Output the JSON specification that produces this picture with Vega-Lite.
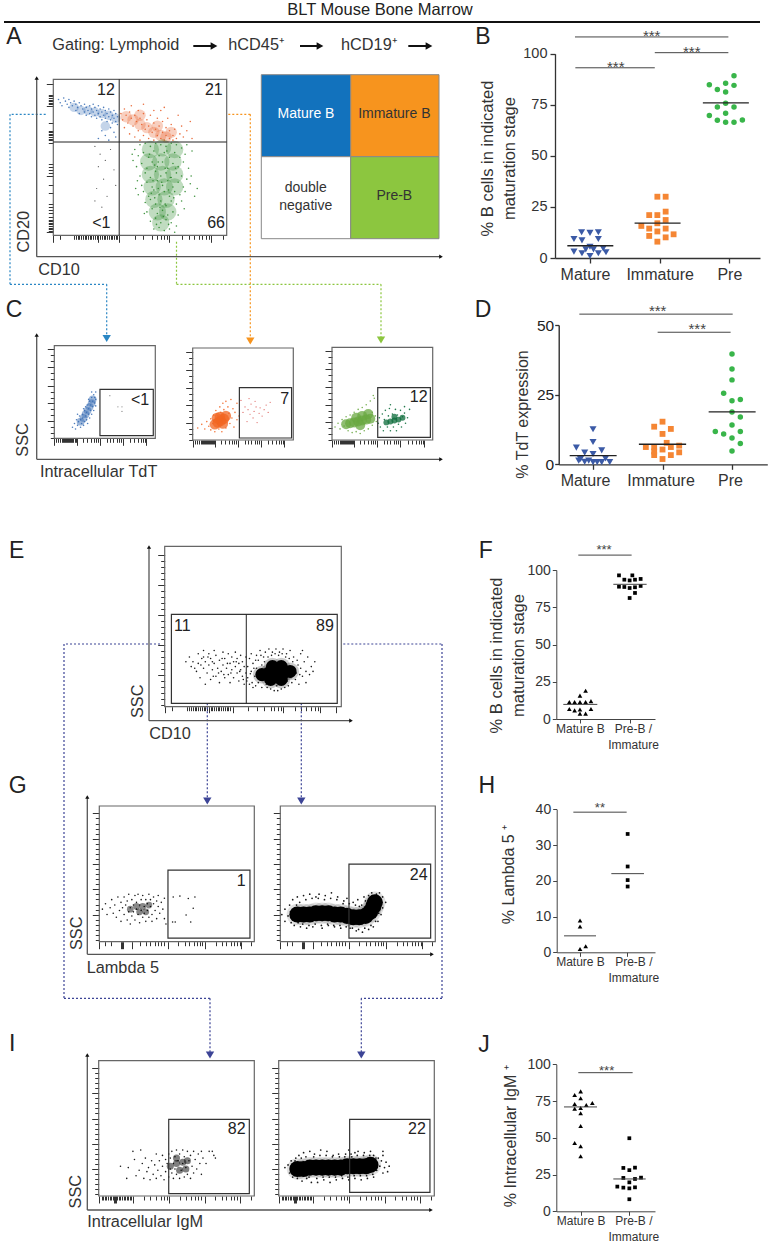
{"$schema":"https://vega.github.io/schema/vega-lite/v6.json","width":772,"height":1246,"autosize":"none","padding":0,"background":"white","config":{"view":{"stroke":null},"text":{"font":"Liberation Sans"},"axis":{"grid":false,"labelFont":"Liberation Sans","titleFont":"Liberation Sans"}},"resolve":{"scale":{"x":"independent","y":"independent"},"axis":{"x":"independent","y":"independent"}},"layer":[
{"encoding":{"x":{"field":"gx","type":"quantitative","scale":{"domain":[0,772],"range":[0,772]},"axis":null},"y":{"field":"gy","type":"quantitative","scale":{"domain":[0,1246],"range":[0,1246]},"axis":null}},"layer":[
{"data":{"values":[{"gx":45.7,"gy":114.3,"gx2":10,"gy2":114.3,"route":"mature"},{"gx":10,"gy":114.3,"gx2":10,"gy2":284.3,"route":"mature"},{"gx":10,"gy":284.3,"gx2":106.7,"gy2":284.3,"route":"mature"},{"gx":106.7,"gy":284.3,"gx2":106.7,"gy2":336,"route":"mature"},{"gx":228.3,"gy":114.3,"gx2":250.3,"gy2":114.3,"route":"immature"},{"gx":250.3,"gy":114.3,"gx2":250.3,"gy2":339,"route":"immature"},{"gx":176.5,"gy":241.7,"gx2":176.5,"gy2":284.3,"route":"pre"},{"gx":176.5,"gy":284.3,"gx2":381,"gy2":284.3,"route":"pre"},{"gx":381,"gy":284.3,"gx2":381,"gy2":338,"route":"pre"},{"gx":160,"gy":644,"gx2":64,"gy2":644,"route":"second"},{"gx":64,"gy":644,"gx2":64,"gy2":998.3,"route":"second"},{"gx":64,"gy":998.3,"gx2":210,"gy2":998.3,"route":"second"},{"gx":210,"gy":998.3,"gx2":210,"gy2":1053,"route":"second"},{"gx":343.3,"gy":644,"gx2":442,"gy2":644,"route":"second"},{"gx":442,"gy":644,"gx2":442,"gy2":998.3,"route":"second"},{"gx":442,"gy":998.3,"gx2":361.3,"gy2":998.3,"route":"second"},{"gx":361.3,"gy":998.3,"gx2":361.3,"gy2":1053,"route":"second"},{"gx":207.3,"gy":703.3,"gx2":207.3,"gy2":798,"route":"second"},{"gx":301.3,"gy":703.3,"gx2":301.3,"gy2":798,"route":"second"}]},"mark":{"type":"rule","strokeDash":[2,2],"strokeWidth":1.2},"encoding":{"x2":{"field":"gx2"},"y2":{"field":"gy2"},"color":{"field":"route","type":"nominal","legend":null,"scale":{"domain":["mature","immature","pre","second"],"range":["#2a86c4","#f7941e","#8cc63f","#3c4496"]}}}},
{"data":{"values":[{"gx":106.7,"gy":338.5,"route":"mature"},{"gx":250.3,"gy":341,"route":"immature"},{"gx":381,"gy":340,"route":"pre"},{"gx":207.3,"gy":801,"route":"second"},{"gx":301.3,"gy":801,"route":"second"},{"gx":210,"gy":1055,"route":"second"},{"gx":361.3,"gy":1055,"route":"second"}]},"mark":{"type":"point","shape":"triangle-down","filled":true,"size":70,"opacity":1},"encoding":{"color":{"field":"route","type":"nominal","legend":null,"scale":{"domain":["mature","immature","pre","second"],"range":["#1272bd","#f7941e","#8cc63f","#2e3192"]}}}},
{"data":{"values":[{"gx":4,"gx2":760,"gy":22,"gy2":22}]},"mark":{"type":"rule","color":"#111","strokeWidth":2},"encoding":{"x2":{"field":"gx2"},"y2":{"field":"gy2"}}},
{"data":{"values":[{"gx":36.7,"gy":78,"gx2":36.7,"gy2":256.7},{"gx":36.7,"gy":256.7,"gx2":441,"gy2":256.7},{"gx":36.7,"gy":335,"gx2":36.7,"gy2":459.3},{"gx":36.7,"gy":459.3,"gx2":441,"gy2":459.3},{"gx":149,"gy":547,"gx2":149,"gy2":720.7},{"gx":149,"gy":720.7,"gx2":351,"gy2":720.7},{"gx":87.3,"gy":797,"gx2":87.3,"gy2":954.3},{"gx":87.3,"gy":954.3,"gx2":432,"gy2":954.3},{"gx":87.3,"gy":1055,"gx2":87.3,"gy2":1210},{"gx":87.3,"gy":1210,"gx2":431,"gy2":1210}]},"mark":{"type":"rule","color":"#555","strokeWidth":1.3},"encoding":{"x2":{"field":"gx2"},"y2":{"field":"gy2"}}},
{"data":{"values":[{"gx":36.7,"gy":78},{"gx":36.7,"gy":335},{"gx":149,"gy":547},{"gx":87.3,"gy":797},{"gx":87.3,"gy":1055}]},"mark":{"type":"point","shape":"triangle-up","filled":true,"size":18,"color":"#111","opacity":1}},
{"data":{"values":[{"gx":441,"gy":256.7},{"gx":441,"gy":459.3},{"gx":351,"gy":720.7},{"gx":432,"gy":954.3},{"gx":431,"gy":1210}]},"mark":{"type":"point","shape":"triangle-right","filled":true,"size":18,"color":"#111","opacity":1}},
{"data":{"values":[{"gx":193.3,"gx2":214,"gy":46,"gy2":46},{"gx":300,"gx2":320,"gy":46,"gy2":46},{"gx":408.3,"gx2":429,"gy":46,"gy2":46}]},"mark":{"type":"rule","color":"#111","strokeWidth":2},"encoding":{"x2":{"field":"gx2"},"y2":{"field":"gy2"}}},
{"data":{"values":[{"gx":214,"gy":46},{"gx":320,"gy":46},{"gx":429,"gy":46}]},"mark":{"type":"point","shape":"triangle-right","filled":true,"size":60,"color":"#111","opacity":1}},
{"data":{"values":[{"gx":261.3,"gx2":350.7,"gy":74.7,"gy2":156.7,"stage":"mature"},{"gx":350.7,"gx2":439,"gy":74.7,"gy2":156.7,"stage":"immature"},{"gx":261.3,"gx2":350.7,"gy":156.7,"gy2":238.7,"stage":"dn"},{"gx":350.7,"gx2":439,"gy":156.7,"gy2":238.7,"stage":"pre"}]},"mark":{"type":"rect","stroke":"#888","strokeWidth":1},"encoding":{"x2":{"field":"gx2"},"y2":{"field":"gy2"},"fill":{"field":"stage","type":"nominal","legend":null,"scale":{"domain":["mature","immature","dn","pre"],"range":["#1272bd","#f7941e","#ffffff","#8cc63f"]}}}},
{"data":{"values":[{"gx":380,"gy":10,"t":"BLT Mouse Bone Marrow"}]},"mark":{"type":"text","fontSize":16.5,"color":"#222","align":"center","baseline":"middle"},"encoding":{"text":{"field":"t"}}},
{"data":{"values":[{"gx":14,"gy":36.7,"t":"A"},{"gx":483,"gy":36.7,"t":"B"},{"gx":14,"gy":310,"t":"C"},{"gx":483,"gy":310,"t":"D"},{"gx":16.7,"gy":550.7,"t":"E"},{"gx":485.7,"gy":550.7,"t":"F"},{"gx":17.7,"gy":786,"t":"G"},{"gx":486.7,"gy":786,"t":"H"},{"gx":12.3,"gy":1044,"t":"I"},{"gx":484,"gy":1045,"t":"J"}]},"mark":{"type":"text","fontSize":23,"color":"#222","align":"center","baseline":"middle"},"encoding":{"text":{"field":"t"}}},
{"data":{"values":[{"gx":52.3,"gy":45,"t":"Gating: Lymphoid"},{"gx":228.3,"gy":45,"t":"hCD45⁺"},{"gx":341,"gy":45,"t":"hCD19⁺"},{"gx":38.3,"gy":270,"t":"CD10"},{"gx":40,"gy":471.7,"t":"Intracellular TdT"},{"gx":149.3,"gy":734.3,"t":"CD10"},{"gx":86.7,"gy":968.3,"t":"Lambda 5"},{"gx":87.3,"gy":1222.3,"t":"Intracellular IgM"}]},"mark":{"type":"text","fontSize":16.3,"color":"#333","align":"left","baseline":"middle"},"encoding":{"text":{"field":"t"}}},
{"data":{"values":[{"gx":24,"gy":231.7,"t":"CD20"},{"gx":23.3,"gy":440,"t":"SSC"},{"gx":138.3,"gy":701.3,"t":"SSC"},{"gx":77.3,"gy":933.3,"t":"SSC"},{"gx":76,"gy":1191.7,"t":"SSC"}]},"mark":{"type":"text","fontSize":16.3,"color":"#333","align":"center","baseline":"middle","angle":270},"encoding":{"text":{"field":"t"}}},
{"data":{"values":[{"gx":306,"gy":114,"t":"Mature B"}]},"mark":{"type":"text","fontSize":14,"color":"#ffffff","align":"center","baseline":"middle"},"encoding":{"text":{"field":"t"}}},
{"data":{"values":[{"gx":394.3,"gy":114,"t":"Immature B"},{"gx":305.7,"gy":188,"t":"double"},{"gx":305.7,"gy":205.7,"t":"negative"},{"gx":394.3,"gy":196.3,"t":"Pre-B"}]},"mark":{"type":"text","fontSize":14,"color":"#333","align":"center","baseline":"middle"},"encoding":{"text":{"field":"t"}}}
]},
{"encoding":{"x":{"field":"x","type":"quantitative","title":null,"scale":{"domain":[0,100],"range":[53.3,226.7]},"axis":{"orient":"bottom","offset":-1010.7,"domain":false,"labels":false,"title":null,"tickColor":"#333","values":[0,4,12,13,14,15,16,17,18,19,20,21,22,23,24,25,26,27,28,29,30,31,32,33,34,35,36,37,38,47,52,57,60,62,64,65.5,67,74,78,81,84,86,88,90,91,98],"tickSize":{"condition":{"test":"indexof([0,26,38,67,91],datum.value)>=0","value":7},"value":4}}},"y":{"field":"y","type":"quantitative","title":null,"scale":{"domain":[0,100],"range":[235.3,79.3]},"axis":{"orient":"left","offset":-53.3,"domain":false,"labels":false,"title":null,"tickColor":"#333","values":[97,90,89,88,87,86,85,84,83,72,67,66,65,64,63,62,61,59,46,44,42,40,38,32,27,20,18,16,14,12,10,9,8,7,6,5,4,3,2],"tickSize":{"condition":{"test":"indexof([97,83,60,38,2],datum.value)>=0","value":7},"value":5}}}},"layer":[
{"data":{"values":[{"x":12,"y":82},{"x":16,"y":80},{"x":20,"y":80},{"x":24,"y":79},{"x":28,"y":78},{"x":32,"y":77},{"x":36,"y":75},{"x":30,"y":70}]},"mark":{"type":"circle","size":90,"color":"#3b6fb5","opacity":0.3}},
{"data":{"values":[{"x":3,"y":87},{"x":4,"y":85},{"x":6,"y":88},{"x":5,"y":83},{"x":7,"y":86},{"x":8,"y":84},{"x":9,"y":87},{"x":10,"y":85},{"x":9,"y":82},{"x":11,"y":83},{"x":12,"y":86},{"x":13,"y":84},{"x":14,"y":82},{"x":13,"y":80},{"x":15,"y":85},{"x":16,"y":83},{"x":17,"y":81},{"x":15,"y":78},{"x":18,"y":84},{"x":18,"y":79},{"x":19,"y":82},{"x":19,"y":77},{"x":20,"y":80},{"x":21,"y":83},{"x":21,"y":78},{"x":22,"y":81},{"x":22,"y":76},{"x":23,"y":79},{"x":23,"y":84},{"x":24,"y":82},{"x":24,"y":77},{"x":25,"y":80},{"x":25,"y":75},{"x":26,"y":83},{"x":26,"y":78},{"x":27,"y":81},{"x":27,"y":76},{"x":28,"y":79},{"x":28,"y":74},{"x":29,"y":82},{"x":29,"y":77},{"x":30,"y":80},{"x":30,"y":75},{"x":31,"y":78},{"x":31,"y":73},{"x":32,"y":81},{"x":32,"y":76},{"x":33,"y":79},{"x":33,"y":74},{"x":34,"y":77},{"x":34,"y":72},{"x":35,"y":80},{"x":35,"y":75},{"x":36,"y":78},{"x":36,"y":73},{"x":37,"y":76},{"x":37,"y":71},{"x":33,"y":69},{"x":28,"y":67},{"x":30,"y":64},{"x":35,"y":66},{"x":26,"y":62},{"x":32,"y":61},{"x":36,"y":63}]},"mark":{"type":"circle","size":2.5,"color":"#3b6fb5","opacity":0.9}},
{"data":{"values":[{"x":42,"y":76},{"x":46,"y":74},{"x":50,"y":71},{"x":54,"y":69},{"x":58,"y":66},{"x":62,"y":64},{"x":65,"y":63},{"x":60,"y":70},{"x":50,"y":77},{"x":68,"y":66}]},"mark":{"type":"circle","size":130,"color":"#e8602c","opacity":0.3}},
{"data":{"values":[{"x":39,"y":78},{"x":40,"y":74},{"x":41,"y":81},{"x":42,"y":77},{"x":43,"y":72},{"x":44,"y":79},{"x":45,"y":75},{"x":45,"y":83},{"x":46,"y":70},{"x":47,"y":77},{"x":48,"y":73},{"x":49,"y":80},{"x":49,"y":67},{"x":50,"y":75},{"x":51,"y":71},{"x":52,"y":78},{"x":52,"y":64},{"x":53,"y":68},{"x":54,"y":74},{"x":55,"y":70},{"x":55,"y":62},{"x":56,"y":77},{"x":57,"y":66},{"x":58,"y":72},{"x":58,"y":61},{"x":59,"y":68},{"x":60,"y":64},{"x":60,"y":75},{"x":61,"y":70},{"x":62,"y":62},{"x":63,"y":66},{"x":63,"y":73},{"x":64,"y":61},{"x":65,"y":69},{"x":65,"y":64},{"x":66,"y":75},{"x":67,"y":62},{"x":67,"y":67},{"x":68,"y":71},{"x":69,"y":64},{"x":69,"y":61},{"x":70,"y":68},{"x":71,"y":62},{"x":72,"y":77},{"x":73,"y":65},{"x":74,"y":70},{"x":75,"y":63},{"x":77,"y":67},{"x":79,"y":73},{"x":80,"y":62},{"x":58,"y":80},{"x":62,"y":80},{"x":52,"y":84},{"x":64,"y":82},{"x":41,"y":69},{"x":44,"y":65},{"x":47,"y":63},{"x":50,"y":61}]},"mark":{"type":"circle","size":2.5,"color":"#e8602c","opacity":0.9}},
{"data":{"values":[{"x":56,"y":55},{"x":63,"y":56},{"x":70,"y":55},{"x":55,"y":47},{"x":62,"y":47},{"x":69,"y":47},{"x":56,"y":39},{"x":63,"y":39},{"x":70,"y":39},{"x":57,"y":31},{"x":64,"y":31},{"x":70,"y":31},{"x":58,"y":23},{"x":65,"y":23},{"x":60,"y":15},{"x":66,"y":15},{"x":62,"y":8}]},"mark":{"type":"circle","size":300,"color":"#2f8a2f","opacity":0.3}},
{"data":{"values":[{"x":47,"y":55},{"x":50,"y":58},{"x":53,"y":59},{"x":56,"y":57},{"x":59,"y":59},{"x":62,"y":58},{"x":65,"y":57},{"x":68,"y":59},{"x":71,"y":58},{"x":74,"y":56},{"x":77,"y":58},{"x":80,"y":54},{"x":46,"y":48},{"x":49,"y":51},{"x":52,"y":53},{"x":55,"y":50},{"x":58,"y":54},{"x":61,"y":51},{"x":64,"y":53},{"x":67,"y":50},{"x":70,"y":53},{"x":73,"y":50},{"x":76,"y":52},{"x":48,"y":44},{"x":51,"y":46},{"x":54,"y":43},{"x":57,"y":47},{"x":60,"y":44},{"x":63,"y":47},{"x":66,"y":43},{"x":69,"y":46},{"x":72,"y":44},{"x":75,"y":47},{"x":78,"y":43},{"x":50,"y":38},{"x":53,"y":40},{"x":56,"y":37},{"x":59,"y":41},{"x":62,"y":38},{"x":65,"y":40},{"x":68,"y":37},{"x":71,"y":40},{"x":74,"y":38},{"x":77,"y":36},{"x":51,"y":32},{"x":54,"y":34},{"x":57,"y":31},{"x":60,"y":35},{"x":63,"y":32},{"x":66,"y":35},{"x":69,"y":31},{"x":72,"y":34},{"x":75,"y":31},{"x":79,"y":33},{"x":83,"y":30},{"x":49,"y":26},{"x":52,"y":28},{"x":55,"y":25},{"x":58,"y":29},{"x":61,"y":26},{"x":64,"y":28},{"x":67,"y":25},{"x":70,"y":28},{"x":73,"y":26},{"x":76,"y":28},{"x":53,"y":21},{"x":56,"y":23},{"x":59,"y":20},{"x":62,"y":22},{"x":65,"y":19},{"x":68,"y":22},{"x":71,"y":20},{"x":74,"y":22},{"x":54,"y":15},{"x":57,"y":17},{"x":60,"y":14},{"x":63,"y":16},{"x":66,"y":13},{"x":69,"y":15},{"x":72,"y":13},{"x":56,"y":9},{"x":59,"y":11},{"x":62,"y":8},{"x":65,"y":10},{"x":68,"y":8},{"x":71,"y":6},{"x":58,"y":4},{"x":61,"y":5},{"x":64,"y":3},{"x":67,"y":4},{"x":70,"y":2},{"x":55.5,"y":52},{"x":60.5,"y":47},{"x":65.5,"y":54},{"x":58.5,"y":45},{"x":64.5,"y":43},{"x":70.5,"y":43},{"x":57.5,"y":35},{"x":62.5,"y":34},{"x":67.5,"y":37},{"x":60.5,"y":30},{"x":56.5,"y":27},{"x":66.5,"y":29},{"x":61.5,"y":18},{"x":64.5,"y":20},{"x":58.5,"y":24},{"x":69.5,"y":24},{"x":59.5,"y":7},{"x":63.5,"y":12},{"x":66.5,"y":7},{"x":48.5,"y":35},{"x":47.5,"y":30},{"x":79.5,"y":38},{"x":81.5,"y":25},{"x":45.5,"y":52},{"x":52.5,"y":14},{"x":75.5,"y":17}]},"mark":{"type":"circle","size":2.5,"color":"#2f8a2f","opacity":0.9}},
{"data":{"values":[{"x":24,"y":57},{"x":27,"y":52},{"x":30,"y":48},{"x":33,"y":55},{"x":26,"y":44},{"x":29,"y":36},{"x":35,"y":42},{"x":25,"y":30},{"x":31,"y":25},{"x":24,"y":22},{"x":36,"y":32},{"x":28,"y":18},{"x":29,"y":10}]},"mark":{"type":"circle","size":1.5,"color":"#444","opacity":0.9}},
{"data":{"values":[{"x":0,"x2":100,"y":0,"y2":100}]},"mark":{"type":"rect","fill":"transparent","stroke":"#666","strokeWidth":1.2},"encoding":{"x2":{"field":"x2"},"y2":{"field":"y2"}}},
{"data":{"values":[{"x":38,"x2":38,"y":0,"y2":100},{"x":0,"x2":100,"y":59.8,"y2":59.8}]},"mark":{"type":"rule","color":"#222","strokeWidth":1},"encoding":{"x2":{"field":"x2"},"y2":{"field":"y2"}}},
{"data":{"values":[{"x":35.5,"y":93,"t":"12"},{"x":97.7,"y":93,"t":"21"},{"x":33,"y":7.7,"t":"<1"},{"x":99,"y":7.7,"t":"66"}]},"mark":{"type":"text","fontSize":16,"color":"#222","align":"right","baseline":"middle"},"encoding":{"text":{"field":"t"}}}
]},
{"encoding":{"x":{"field":"x","type":"quantitative","title":null,"scale":{"domain":[0,100],"range":[54.3,155.3]},"axis":{"orient":"bottom","offset":-807.7,"domain":false,"labels":false,"title":null,"tickColor":"#333","values":[0,2,4,6,8,9,10,11,12,13,14,15,16,17,18,19,20,21,22,28,32,36,39,41,43,45,52,55,58,62,64,66,68,75,79,83,86,88,90,91],"tickSize":{"condition":{"test":"indexof([0,22,45,68,91],datum.value)>=0","value":7},"value":4}}},"y":{"field":"y","type":"quantitative","title":null,"scale":{"domain":[0,100],"range":[438.3,345.7]},"axis":{"orient":"left","offset":-54.3,"domain":false,"labels":false,"title":null,"tickColor":"#333","values":[96,89.5,83,76.5,70,63.5,57,50.5,44,37.8,31.5,25,18.9,12.5,6,0],"tickSize":{"condition":{"test":"indexof([96,76.5,57,37.8,18.9],datum.value)>=0","value":7},"value":4}}}},"layer":[
{"data":{"values":[{"x":26,"y":18},{"x":29,"y":22},{"x":31,"y":26},{"x":33,"y":30},{"x":35,"y":34},{"x":37,"y":38},{"x":38,"y":42}]},"mark":{"type":"circle","size":60,"color":"#3b6fb5","opacity":0.5}},
{"data":{"values":[{"x":18,"y":12},{"x":20,"y":16},{"x":21,"y":10},{"x":22,"y":20},{"x":23,"y":14},{"x":24,"y":18},{"x":25,"y":24},{"x":26,"y":12},{"x":26,"y":20},{"x":27,"y":16},{"x":28,"y":26},{"x":28,"y":22},{"x":29,"y":14},{"x":30,"y":18},{"x":30,"y":30},{"x":31,"y":24},{"x":31,"y":34},{"x":32,"y":20},{"x":32,"y":28},{"x":33,"y":16},{"x":33,"y":36},{"x":34,"y":26},{"x":34,"y":32},{"x":35,"y":22},{"x":35,"y":40},{"x":36,"y":30},{"x":36,"y":36},{"x":37,"y":26},{"x":37,"y":44},{"x":38,"y":34},{"x":38,"y":40},{"x":39,"y":30},{"x":39,"y":47},{"x":40,"y":38},{"x":40,"y":44},{"x":41,"y":50},{"x":41,"y":35},{"x":37,"y":50},{"x":34,"y":42},{"x":29,"y":32},{"x":23,"y":26},{"x":41,"y":42}]},"mark":{"type":"circle","size":2.5,"color":"#3b6fb5","opacity":0.9}},
{"data":{"values":[{"x":55,"y":46},{"x":63,"y":34},{"x":67,"y":34},{"x":67,"y":29}]},"mark":{"type":"circle","size":1.5,"color":"#777","opacity":0.9}},
{"data":{"values":[{"x":0,"x2":100,"y":0,"y2":100}]},"mark":{"type":"rect","fill":"transparent","stroke":"#666","strokeWidth":1.2},"encoding":{"x2":{"field":"x2"},"y2":{"field":"y2"}}},
{"data":{"values":[{"x":45.2,"x2":98,"y":2.9,"y2":52.9}]},"mark":{"type":"rect","fill":"transparent","stroke":"#333","strokeWidth":1.2},"encoding":{"x2":{"field":"x2"},"y2":{"field":"y2"}}},
{"data":{"values":[{"x":94,"y":41.4,"t":"<1"}]},"mark":{"type":"text","fontSize":16,"color":"#222","align":"right","baseline":"middle"},"encoding":{"text":{"field":"t"}}}
]},
{"encoding":{"x":{"field":"x","type":"quantitative","title":null,"scale":{"domain":[0,100],"range":[192.7,293.3]},"axis":{"orient":"bottom","offset":-806,"domain":false,"labels":false,"title":null,"tickColor":"#333","values":[0,2,4,6,8,9,10,11,12,13,14,15,16,17,18,19,20,21,22,28,32,36,39,41,43,45,52,55,58,62,64,66,68,75,79,83,86,88,90,91],"tickSize":{"condition":{"test":"indexof([0,22,45,68,91],datum.value)>=0","value":7},"value":4}}},"y":{"field":"y","type":"quantitative","title":null,"scale":{"domain":[0,100],"range":[440,348]},"axis":{"orient":"left","offset":-192.7,"domain":false,"labels":false,"title":null,"tickColor":"#333","values":[96,89.5,83,76.5,70,63.5,57,50.5,44,37.8,31.5,25,18.9,12.5,6,0],"tickSize":{"condition":{"test":"indexof([96,76.5,57,37.8,18.9],datum.value)>=0","value":7},"value":4}}}},"layer":[
{"data":{"values":[{"x":22,"y":17},{"x":25,"y":19},{"x":28,"y":21},{"x":31,"y":23},{"x":33,"y":26},{"x":27,"y":25},{"x":30,"y":18},{"x":24,"y":24}]},"mark":{"type":"circle","size":110,"color":"#f26522","opacity":0.75}},
{"data":{"values":[{"x":5,"y":13},{"x":9,"y":17},{"x":12,"y":12},{"x":14,"y":20},{"x":16,"y":15},{"x":18,"y":23},{"x":18,"y":11},{"x":20,"y":18},{"x":21,"y":27},{"x":22,"y":9},{"x":23,"y":32},{"x":25,"y":26},{"x":26,"y":12},{"x":27,"y":36},{"x":28,"y":30},{"x":29,"y":9},{"x":30,"y":40},{"x":31,"y":33},{"x":33,"y":42},{"x":33,"y":13},{"x":35,"y":36},{"x":36,"y":29},{"x":37,"y":18},{"x":38,"y":44},{"x":39,"y":24},{"x":40,"y":34},{"x":41,"y":14},{"x":42,"y":30},{"x":44,"y":40},{"x":44,"y":22},{"x":46,"y":26}]},"mark":{"type":"circle","size":2.5,"color":"#f26522","opacity":0.9}},
{"data":{"values":[{"x":48,"y":43},{"x":50,"y":30},{"x":52,"y":36},{"x":54,"y":20},{"x":55,"y":33},{"x":57,"y":28},{"x":58,"y":39},{"x":60,"y":24},{"x":61,"y":31},{"x":63,"y":36},{"x":64,"y":19},{"x":66,"y":29},{"x":67,"y":35},{"x":69,"y":26},{"x":71,"y":33},{"x":73,"y":38},{"x":75,"y":30},{"x":77,"y":41},{"x":62,"y":42},{"x":56,"y":45}]},"mark":{"type":"circle","size":1.5,"color":"#d9534f","opacity":0.9}},
{"data":{"values":[{"x":0,"x2":100,"y":0,"y2":100}]},"mark":{"type":"rect","fill":"transparent","stroke":"#666","strokeWidth":1.2},"encoding":{"x2":{"field":"x2"},"y2":{"field":"y2"}}},
{"data":{"values":[{"x":46.4,"x2":98.3,"y":2.2,"y2":56.9}]},"mark":{"type":"rect","fill":"transparent","stroke":"#333","strokeWidth":1.2},"encoding":{"x2":{"field":"x2"},"y2":{"field":"y2"}}},
{"data":{"values":[{"x":96,"y":44.6,"t":"7"}]},"mark":{"type":"text","fontSize":16,"color":"#222","align":"right","baseline":"middle"},"encoding":{"text":{"field":"t"}}}
]},
{"encoding":{"x":{"field":"x","type":"quantitative","title":null,"scale":{"domain":[0,100],"range":[332,432.7]},"axis":{"orient":"bottom","offset":-806,"domain":false,"labels":false,"title":null,"tickColor":"#333","values":[0,2,4,6,8,9,10,11,12,13,14,15,16,17,18,19,20,21,22,28,32,36,39,41,43,45,52,55,58,62,64,66,68,75,79,83,86,88,90,91],"tickSize":{"condition":{"test":"indexof([0,22,45,68,91],datum.value)>=0","value":7},"value":4}}},"y":{"field":"y","type":"quantitative","title":null,"scale":{"domain":[0,100],"range":[440,347.3]},"axis":{"orient":"left","offset":-332,"domain":false,"labels":false,"title":null,"tickColor":"#333","values":[96,89.5,83,76.5,70,63.5,57,50.5,44,37.8,31.5,25,18.9,12.5,6,0],"tickSize":{"condition":{"test":"indexof([96,76.5,57,37.8,18.9],datum.value)>=0","value":7},"value":4}}}},"layer":[
{"data":{"values":[{"x":14,"y":17},{"x":18,"y":18},{"x":22,"y":19},{"x":26,"y":20},{"x":30,"y":21},{"x":34,"y":22},{"x":38,"y":23},{"x":24,"y":24},{"x":30,"y":26},{"x":28,"y":16},{"x":36,"y":28}]},"mark":{"type":"circle","size":100,"color":"#6aa842","opacity":0.75}},
{"data":{"values":[{"x":3,"y":14},{"x":6,"y":18},{"x":8,"y":12},{"x":10,"y":22},{"x":12,"y":15},{"x":14,"y":25},{"x":16,"y":10},{"x":18,"y":27},{"x":20,"y":8},{"x":22,"y":30},{"x":24,"y":9},{"x":26,"y":33},{"x":28,"y":7},{"x":30,"y":35},{"x":32,"y":10},{"x":34,"y":38},{"x":36,"y":12},{"x":38,"y":42},{"x":40,"y":16},{"x":40,"y":30},{"x":42,"y":45},{"x":43,"y":26},{"x":44,"y":20},{"x":41,"y":48}]},"mark":{"type":"circle","size":2.5,"color":"#6aa842","opacity":0.9}},
{"data":{"values":[{"x":54,"y":19},{"x":58,"y":20},{"x":62,"y":21},{"x":66,"y":22},{"x":70,"y":24},{"x":62,"y":25}]},"mark":{"type":"circle","size":35,"color":"#0b6b3a","opacity":0.75}},
{"data":{"values":[{"x":46,"y":18},{"x":47,"y":24},{"x":48,"y":14},{"x":50,"y":28},{"x":51,"y":10},{"x":52,"y":22},{"x":53,"y":32},{"x":55,"y":14},{"x":56,"y":26},{"x":57,"y":34},{"x":58,"y":10},{"x":60,"y":28},{"x":61,"y":14},{"x":63,"y":33},{"x":64,"y":10},{"x":65,"y":27},{"x":66,"y":17},{"x":68,"y":32},{"x":69,"y":14},{"x":70,"y":25},{"x":72,"y":29},{"x":73,"y":18},{"x":75,"y":24},{"x":77,"y":33},{"x":72,"y":36},{"x":58,"y":38}]},"mark":{"type":"circle","size":2.5,"color":"#0b6b3a","opacity":0.9}},
{"data":{"values":[{"x":0,"x2":100,"y":0,"y2":100}]},"mark":{"type":"rect","fill":"transparent","stroke":"#666","strokeWidth":1.2},"encoding":{"x2":{"field":"x2"},"y2":{"field":"y2"}}},
{"data":{"values":[{"x":45.4,"x2":97.7,"y":2.9,"y2":56.5}]},"mark":{"type":"rect","fill":"transparent","stroke":"#333","strokeWidth":1.2},"encoding":{"x2":{"field":"x2"},"y2":{"field":"y2"}}},
{"data":{"values":[{"x":95,"y":46,"t":"12"}]},"mark":{"type":"text","fontSize":16,"color":"#222","align":"right","baseline":"middle"},"encoding":{"text":{"field":"t"}}}
]},
{"encoding":{"x":{"field":"x","type":"quantitative","title":null,"scale":{"domain":[0,100],"range":[164.7,341.3]},"axis":{"orient":"bottom","offset":-539.3,"domain":false,"labels":false,"title":null,"tickColor":"#333","values":[0,4,12.5,14,15,16,17,18,19,20,21,22,23,24,25,26,27,28,29,30,31,32,33,34,35,36,37,38.5,47,52,56,60,62,64,66,67,74,77,80,83,85,87,88,97],"tickSize":{"condition":{"test":"indexof([0,25,38.5,67,88,97],datum.value)>=0","value":6},"value":4}}},"y":{"field":"y","type":"quantitative","title":null,"scale":{"domain":[0,100],"range":[706.7,546.3]},"axis":{"orient":"left","offset":-164.7,"domain":false,"labels":false,"title":null,"tickColor":"#333","values":[94.6,90.9,87.1,83.4,79.7,75.9,72.2,68.5,64.7,61,57.2,53.5,49.8,46,42.3,38.5,34.8,31.1,27.3,23.6,19.9,16.1,12.4,8.7,4.9,1.2],"tickSize":{"condition":{"test":"indexof([94.6,75.9,57.2,38.5,19.9],datum.value)>=0","value":7},"value":4}}}},"layer":[
{"data":{"values":[{"x":55,"y":20},{"x":59,"y":21},{"x":63,"y":21},{"x":67,"y":21},{"x":71,"y":22},{"x":61,"y":25},{"x":66,"y":25},{"x":60,"y":17},{"x":66,"y":17}]},"mark":{"type":"circle","size":320,"color":"#000","opacity":0.2}},
{"data":{"values":[{"x":55,"y":20},{"x":59,"y":21},{"x":63,"y":21},{"x":67,"y":21},{"x":71,"y":22},{"x":61,"y":25},{"x":66,"y":25},{"x":60,"y":17},{"x":66,"y":17}]},"mark":{"type":"circle","size":170,"color":"#000","opacity":1}},
{"data":{"values":[{"x":12,"y":28},{"x":14,"y":31},{"x":15,"y":25},{"x":16,"y":28},{"x":18,"y":22},{"x":19,"y":33},{"x":19,"y":27},{"x":20,"y":18},{"x":21,"y":30},{"x":22,"y":24},{"x":22,"y":35},{"x":23,"y":14},{"x":23,"y":28},{"x":24,"y":21},{"x":25,"y":33},{"x":25,"y":26},{"x":26,"y":17},{"x":26,"y":30},{"x":27,"y":23},{"x":28,"y":35},{"x":28,"y":27},{"x":29,"y":19},{"x":29,"y":32},{"x":30,"y":24},{"x":31,"y":15},{"x":31,"y":29},{"x":32,"y":22},{"x":33,"y":34},{"x":33,"y":26},{"x":34,"y":18},{"x":34,"y":30},{"x":35,"y":24},{"x":36,"y":33},{"x":36,"y":20},{"x":37,"y":27},{"x":37,"y":15},{"x":38,"y":31},{"x":38,"y":23},{"x":39,"y":18},{"x":39,"y":28},{"x":40,"y":34},{"x":40,"y":25},{"x":41,"y":21},{"x":41,"y":30},{"x":42,"y":16},{"x":42,"y":27},{"x":43,"y":32},{"x":43,"y":23},{"x":44,"y":19},{"x":44,"y":28},{"x":45,"y":14},{"x":45,"y":25},{"x":46,"y":21},{"x":46,"y":31},{"x":47,"y":18},{"x":47,"y":25},{"x":48,"y":30},{"x":48,"y":14},{"x":49,"y":22},{"x":49,"y":33},{"x":50,"y":27},{"x":50,"y":12},{"x":51,"y":19},{"x":52,"y":32},{"x":52,"y":24},{"x":53,"y":15},{"x":53,"y":29},{"x":54,"y":35},{"x":54,"y":20},{"x":55,"y":12},{"x":55,"y":26},{"x":56,"y":31},{"x":57,"y":34},{"x":58,"y":12},{"x":59,"y":36},{"x":60,"y":11},{"x":61,"y":34},{"x":62,"y":10},{"x":63,"y":36},{"x":64,"y":10},{"x":65,"y":34},{"x":66,"y":11},{"x":67,"y":36},{"x":68,"y":12},{"x":69,"y":33},{"x":70,"y":13},{"x":71,"y":35},{"x":72,"y":15},{"x":73,"y":31},{"x":74,"y":17},{"x":75,"y":29},{"x":76,"y":14},{"x":77,"y":33},{"x":77,"y":24},{"x":78,"y":19},{"x":79,"y":28},{"x":80,"y":22},{"x":81,"y":31},{"x":82,"y":20},{"x":83,"y":25},{"x":85,"y":28},{"x":84,"y":22},{"x":80,"y":15},{"x":78,"y":35},{"x":48.5,"y":20.5},{"x":50.5,"y":24},{"x":51.5,"y":29},{"x":53.5,"y":22},{"x":54.5,"y":32},{"x":55.5,"y":17},{"x":56.5,"y":28},{"x":57.5,"y":14},{"x":58.5,"y":31},{"x":59.5,"y":15},{"x":60.5,"y":32},{"x":61.5,"y":14},{"x":62.5,"y":33},{"x":63.5,"y":13},{"x":64.5,"y":32},{"x":65.5,"y":14},{"x":66.5,"y":33},{"x":67.5,"y":15},{"x":68.5,"y":31},{"x":69.5,"y":16},{"x":70.5,"y":30},{"x":71.5,"y":18},{"x":72.5,"y":28},{"x":73.5,"y":24},{"x":74.5,"y":21},{"x":75.5,"y":26},{"x":76.5,"y":20},{"x":46.5,"y":16},{"x":49.5,"y":15},{"x":51.5,"y":13},{"x":17,"y":24},{"x":20.5,"y":26},{"x":24.5,"y":31},{"x":27.5,"y":19},{"x":30.5,"y":21},{"x":32.5,"y":30},{"x":35.5,"y":27},{"x":37.5,"y":21},{"x":40.5,"y":28},{"x":42.5,"y":22},{"x":44.5,"y":17},{"x":33.5,"y":20},{"x":27,"y":28},{"x":22,"y":31}]},"mark":{"type":"circle","size":2.5,"color":"#000","opacity":0.9}},
{"data":{"values":[{"x":0,"x2":100,"y":0,"y2":100}]},"mark":{"type":"rect","fill":"transparent","stroke":"#666","strokeWidth":1.2},"encoding":{"x2":{"field":"x2"},"y2":{"field":"y2"}}},
{"data":{"values":[{"x":3.8,"x2":97.7,"y":2.1,"y2":57.6}]},"mark":{"type":"rect","fill":"transparent","stroke":"#333","strokeWidth":1.2},"encoding":{"x2":{"field":"x2"},"y2":{"field":"y2"}}},
{"data":{"values":[{"x":46.2,"x2":46.2,"y":2.1,"y2":57.6}]},"mark":{"type":"rule","color":"#222","strokeWidth":1},"encoding":{"x2":{"field":"x2"},"y2":{"field":"y2"}}},
{"data":{"values":[{"x":5.3,"y":50.3,"t":"11"}]},"mark":{"type":"text","fontSize":16,"color":"#222","align":"left","baseline":"middle"},"encoding":{"text":{"field":"t"}}},
{"data":{"values":[{"x":95.8,"y":50.3,"t":"89"}]},"mark":{"type":"text","fontSize":16,"color":"#222","align":"right","baseline":"middle"},"encoding":{"text":{"field":"t"}}}
]},
{"encoding":{"x":{"field":"x","type":"quantitative","title":null,"scale":{"domain":[0,100],"range":[99.3,254.3]},"axis":{"orient":"bottom","offset":-304.3,"domain":false,"labels":false,"title":null,"tickColor":"#333","values":[0,4,7.5,14,14.5,15,21,26,30,33,36,38,40,42,44.5,51,55,58,61,63,65,66.5,68,75,79,82,85,87,89,90.5,91.5,98],"tickSize":{"condition":{"test":"indexof([0,14,14.5,15,21,44.5,68,91.5],datum.value)>=0","value":7},"value":4}}},"y":{"field":"y","type":"quantitative","title":null,"scale":{"domain":[0,100],"range":[941.7,806]},"axis":{"orient":"left","offset":-99.3,"domain":false,"labels":false,"title":null,"tickColor":"#333","values":[94.6,90.9,87.1,83.4,79.7,75.9,72.2,68.5,64.7,61,57.2,53.5,49.8,46,42.3,38.5,34.8,31.1,27.3,23.6,19.9,16.1,12.4,8.7,4.9,1.2],"tickSize":{"condition":{"test":"indexof([94.6,75.9,57.2,38.5,19.9],datum.value)>=0","value":7},"value":4}}}},"layer":[
{"data":{"values":[{"x":20,"y":24},{"x":24,"y":26},{"x":28,"y":26},{"x":32,"y":27},{"x":26,"y":22},{"x":30,"y":22}]},"mark":{"type":"circle","size":45,"color":"#111","opacity":0.5}},
{"data":{"values":[{"x":2,"y":24},{"x":4,"y":28},{"x":5,"y":20},{"x":7,"y":25},{"x":8,"y":31},{"x":9,"y":21},{"x":10,"y":27},{"x":11,"y":18},{"x":12,"y":33},{"x":13,"y":23},{"x":14,"y":29},{"x":14,"y":15},{"x":15,"y":25},{"x":16,"y":20},{"x":16,"y":33},{"x":17,"y":27},{"x":18,"y":16},{"x":18,"y":30},{"x":19,"y":22},{"x":19,"y":35},{"x":20,"y":25},{"x":20,"y":13},{"x":21,"y":31},{"x":21,"y":19},{"x":22,"y":27},{"x":22,"y":22},{"x":23,"y":34},{"x":23,"y":16},{"x":24,"y":29},{"x":24,"y":24},{"x":25,"y":20},{"x":25,"y":35},{"x":26,"y":27},{"x":26,"y":14},{"x":27,"y":31},{"x":27,"y":23},{"x":28,"y":18},{"x":28,"y":34},{"x":29,"y":26},{"x":29,"y":21},{"x":30,"y":31},{"x":30,"y":15},{"x":31,"y":28},{"x":31,"y":23},{"x":32,"y":35},{"x":32,"y":18},{"x":33,"y":26},{"x":33,"y":31},{"x":34,"y":20},{"x":34,"y":15},{"x":35,"y":28},{"x":35,"y":33},{"x":36,"y":23},{"x":37,"y":17},{"x":37,"y":30},{"x":38,"y":26},{"x":38,"y":34},{"x":39,"y":21},{"x":40,"y":29},{"x":41,"y":24},{"x":42,"y":32},{"x":43,"y":13},{"x":42,"y":17},{"x":47.7,"y":33},{"x":52,"y":33.6},{"x":57.4,"y":31.8},{"x":61.7,"y":33},{"x":60.6,"y":24.6},{"x":56,"y":19.7},{"x":47.3,"y":14.5},{"x":49,"y":14.5},{"x":59,"y":14.5}]},"mark":{"type":"circle","size":2.5,"color":"#000","opacity":0.9}},
{"data":{"values":[{"x":0,"x2":100,"y":0,"y2":100}]},"mark":{"type":"rect","fill":"transparent","stroke":"#666","strokeWidth":1.2},"encoding":{"x2":{"field":"x2"},"y2":{"field":"y2"}}},
{"data":{"values":[{"x":44.3,"x2":97.2,"y":2.7,"y2":52.8}]},"mark":{"type":"rect","fill":"transparent","stroke":"#333","strokeWidth":1.2},"encoding":{"x2":{"field":"x2"},"y2":{"field":"y2"}}},
{"data":{"values":[{"x":94.4,"y":44.7,"t":"1"}]},"mark":{"type":"text","fontSize":16,"color":"#222","align":"right","baseline":"middle"},"encoding":{"text":{"field":"t"}}}
]},
{"encoding":{"x":{"field":"x","type":"quantitative","title":null,"scale":{"domain":[0,100],"range":[280.3,435.3]},"axis":{"orient":"bottom","offset":-304.3,"domain":false,"labels":false,"title":null,"tickColor":"#333","values":[0,4,7.5,14,14.5,15,21,26,30,33,36,38,40,42,44.5,51,55,58,61,63,65,66.5,68,75,79,82,85,87,89,90.5,91.5,98],"tickSize":{"condition":{"test":"indexof([0,14,14.5,15,21,44.5,68,91.5],datum.value)>=0","value":7},"value":4}}},"y":{"field":"y","type":"quantitative","title":null,"scale":{"domain":[0,100],"range":[941.7,806]},"axis":{"orient":"left","offset":-280.3,"domain":false,"labels":false,"title":null,"tickColor":"#333","values":[94.6,90.9,87.1,83.4,79.7,75.9,72.2,68.5,64.7,61,57.2,53.5,49.8,46,42.3,38.5,34.8,31.1,27.3,23.6,19.9,16.1,12.4,8.7,4.9,1.2],"tickSize":{"condition":{"test":"indexof([94.6,75.9,57.2,38.5,19.9],datum.value)>=0","value":7},"value":4}}}},"layer":[
{"data":{"values":[{"x":11,"y":20},{"x":15,"y":20},{"x":19,"y":20},{"x":23,"y":21},{"x":27,"y":21},{"x":31,"y":21},{"x":35,"y":20},{"x":39,"y":20},{"x":43,"y":19},{"x":47,"y":18},{"x":51,"y":18},{"x":55,"y":19},{"x":58,"y":22},{"x":60,"y":26},{"x":61,"y":29}]},"mark":{"type":"circle","size":460,"color":"#000","opacity":0.12}},
{"data":{"values":[{"x":11,"y":20},{"x":15,"y":20},{"x":19,"y":20},{"x":23,"y":21},{"x":27,"y":21},{"x":31,"y":21},{"x":35,"y":20},{"x":39,"y":20},{"x":43,"y":19},{"x":47,"y":18},{"x":51,"y":18},{"x":55,"y":19},{"x":58,"y":22},{"x":60,"y":26},{"x":61,"y":29}]},"mark":{"type":"circle","size":260,"color":"#000","opacity":1}},
{"data":{"values":[{"x":1,"y":20},{"x":3,"y":24},{"x":3,"y":15},{"x":5,"y":19},{"x":6,"y":27},{"x":7,"y":14},{"x":8,"y":31},{"x":9,"y":12},{"x":11,"y":33},{"x":13,"y":11},{"x":15,"y":34},{"x":17,"y":10},{"x":19,"y":35},{"x":21,"y":11},{"x":23,"y":33},{"x":25,"y":35},{"x":27,"y":10},{"x":29,"y":34},{"x":31,"y":12},{"x":33,"y":36},{"x":35,"y":11},{"x":37,"y":33},{"x":39,"y":10},{"x":41,"y":30},{"x":43,"y":32},{"x":45,"y":10},{"x":47,"y":29},{"x":49,"y":8},{"x":51,"y":26},{"x":53,"y":7},{"x":55,"y":30},{"x":57,"y":9},{"x":59,"y":36},{"x":60,"y":11},{"x":62,"y":35},{"x":63,"y":15},{"x":64,"y":30},{"x":65,"y":20},{"x":66,"y":33},{"x":66,"y":25},{"x":68,"y":29},{"x":64,"y":36},{"x":57,"y":34},{"x":54,"y":33},{"x":50,"y":31},{"x":6.5,"y":22},{"x":8.5,"y":17},{"x":10.5,"y":27},{"x":11.5,"y":14},{"x":12.5,"y":29},{"x":14.5,"y":13},{"x":16.5,"y":31},{"x":18.5,"y":12},{"x":20.5,"y":32},{"x":22.5,"y":13},{"x":24.5,"y":32},{"x":26.5,"y":12},{"x":28.5,"y":31},{"x":30.5,"y":13},{"x":32.5,"y":32},{"x":34.5,"y":12},{"x":36.5,"y":31},{"x":38.5,"y":12},{"x":40.5,"y":28},{"x":42.5,"y":11},{"x":44.5,"y":28},{"x":46.5,"y":10},{"x":48.5,"y":27},{"x":50.5,"y":9},{"x":52.5,"y":27},{"x":54.5,"y":10},{"x":56.5,"y":30},{"x":58.5,"y":12},{"x":60.5,"y":33},{"x":62.5,"y":25},{"x":63.5,"y":21},{"x":61.5,"y":15}]},"mark":{"type":"circle","size":3,"color":"#000","opacity":0.9}},
{"data":{"values":[{"x":0,"x2":100,"y":0,"y2":100}]},"mark":{"type":"rect","fill":"transparent","stroke":"#666","strokeWidth":1.2},"encoding":{"x2":{"field":"x2"},"y2":{"field":"y2"}}},
{"data":{"values":[{"x":44.3,"x2":97,"y":2.7,"y2":57.2}]},"mark":{"type":"rect","fill":"transparent","stroke":"#333","strokeWidth":1.2},"encoding":{"x2":{"field":"x2"},"y2":{"field":"y2"}}},
{"data":{"values":[{"x":95,"y":49,"t":"24"}]},"mark":{"type":"text","fontSize":16,"color":"#222","align":"right","baseline":"middle"},"encoding":{"text":{"field":"t"}}}
]},
{"encoding":{"x":{"field":"x","type":"quantitative","title":null,"scale":{"domain":[0,100],"range":[98.7,254.3]},"axis":{"orient":"bottom","offset":-50,"domain":false,"labels":false,"title":null,"tickColor":"#333","values":[0,2,3,4,5,6,7,8,9,10,10.5,11,12,13,14,15,16,17,18,19,20,21,22,29,33,37,40,42,44,45.5,52,56,59,62,64,66,68,75,79,82,85,87,89,91,98],"tickSize":{"condition":{"test":"indexof([0,10,10.5,11,22,45.5,68,91],datum.value)>=0","value":7},"value":4}}},"y":{"field":"y","type":"quantitative","title":null,"scale":{"domain":[0,100],"range":[1196,1060.7]},"axis":{"orient":"left","offset":-98.7,"domain":false,"labels":false,"title":null,"tickColor":"#333","values":[94.6,90.9,87.1,83.4,79.7,75.9,72.2,68.5,64.7,61,57.2,53.5,49.8,46,42.3,38.5,34.8,31.1,27.3,23.6,19.9,16.1,12.4,8.7,4.9,1.2],"tickSize":{"condition":{"test":"indexof([94.6,75.9,57.2,38.5,19.9],datum.value)>=0","value":7},"value":4}}}},"layer":[
{"data":{"values":[{"x":46,"y":22},{"x":50,"y":24},{"x":54,"y":25},{"x":57,"y":26},{"x":52,"y":19},{"x":56,"y":20},{"x":50,"y":28}]},"mark":{"type":"circle","size":50,"color":"#000","opacity":0.5}},
{"data":{"values":[{"x":14,"y":22},{"x":18,"y":13},{"x":19,"y":21},{"x":22,"y":33},{"x":23,"y":27},{"x":24,"y":15},{"x":26,"y":19},{"x":27,"y":34},{"x":28,"y":24},{"x":29,"y":13},{"x":30,"y":28},{"x":31,"y":18},{"x":32,"y":21},{"x":33,"y":12},{"x":34,"y":26},{"x":35,"y":16},{"x":36,"y":23},{"x":37,"y":31},{"x":37,"y":13},{"x":38,"y":19},{"x":39,"y":26},{"x":40,"y":15},{"x":41,"y":22},{"x":41,"y":30},{"x":42,"y":12},{"x":43,"y":18},{"x":43,"y":27},{"x":44,"y":24},{"x":45,"y":14},{"x":45,"y":31},{"x":46,"y":20},{"x":46,"y":28},{"x":47,"y":17},{"x":47,"y":33},{"x":48,"y":24},{"x":48,"y":13},{"x":49,"y":29},{"x":49,"y":20},{"x":50,"y":34},{"x":50,"y":16},{"x":51,"y":26},{"x":52,"y":13},{"x":52,"y":31},{"x":53,"y":19},{"x":54,"y":34},{"x":54,"y":24},{"x":55,"y":14},{"x":55,"y":29},{"x":56,"y":21},{"x":57,"y":33},{"x":57,"y":16},{"x":58,"y":26},{"x":59,"y":13},{"x":59,"y":30},{"x":60,"y":22},{"x":61,"y":33},{"x":61,"y":17},{"x":62,"y":27},{"x":63,"y":20},{"x":64,"y":31},{"x":65,"y":24},{"x":66,"y":16},{"x":66,"y":33},{"x":67,"y":28},{"x":69,"y":24},{"x":71,"y":33},{"x":73,"y":33},{"x":74,"y":30},{"x":75,"y":28}]},"mark":{"type":"circle","size":2.5,"color":"#000","opacity":0.9}},
{"data":{"values":[{"x":0,"x2":100,"y":0,"y2":100}]},"mark":{"type":"rect","fill":"transparent","stroke":"#666","strokeWidth":1.2},"encoding":{"x2":{"field":"x2"},"y2":{"field":"y2"}}},
{"data":{"values":[{"x":45,"x2":96.8,"y":1.7,"y2":56.7}]},"mark":{"type":"rect","fill":"transparent","stroke":"#333","strokeWidth":1.2},"encoding":{"x2":{"field":"x2"},"y2":{"field":"y2"}}},
{"data":{"values":[{"x":94.4,"y":49.3,"t":"82"}]},"mark":{"type":"text","fontSize":16,"color":"#222","align":"right","baseline":"middle"},"encoding":{"text":{"field":"t"}}}
]},
{"encoding":{"x":{"field":"x","type":"quantitative","title":null,"scale":{"domain":[0,100],"range":[278.7,434.3]},"axis":{"orient":"bottom","offset":-50,"domain":false,"labels":false,"title":null,"tickColor":"#333","values":[0,2,3,4,5,6,7,8,9,10,10.5,11,12,13,14,15,16,17,18,19,20,21,22,29,33,37,40,42,44,45.5,52,56,59,62,64,66,68,75,79,82,85,87,89,91,98],"tickSize":{"condition":{"test":"indexof([0,10,10.5,11,22,45.5,68,91],datum.value)>=0","value":7},"value":4}}},"y":{"field":"y","type":"quantitative","title":null,"scale":{"domain":[0,100],"range":[1196,1060.7]},"axis":{"orient":"left","offset":-278.7,"domain":false,"labels":false,"title":null,"tickColor":"#333","values":[94.6,90.9,87.1,83.4,79.7,75.9,72.2,68.5,64.7,61,57.2,53.5,49.8,46,42.3,38.5,34.8,31.1,27.3,23.6,19.9,16.1,12.4,8.7,4.9,1.2],"tickSize":{"condition":{"test":"indexof([94.6,75.9,57.2,38.5,19.9],datum.value)>=0","value":7},"value":4}}}},"layer":[
{"data":{"values":[{"x":12,"y":20},{"x":16,"y":20},{"x":20,"y":21},{"x":24,"y":21},{"x":28,"y":21},{"x":32,"y":21},{"x":36,"y":21},{"x":40,"y":21},{"x":44,"y":22},{"x":48,"y":22},{"x":52,"y":22},{"x":56,"y":22},{"x":59,"y":23}]},"mark":{"type":"circle","size":450,"color":"#000","opacity":0.12}},
{"data":{"values":[{"x":12,"y":20},{"x":16,"y":20},{"x":20,"y":21},{"x":24,"y":21},{"x":28,"y":21},{"x":32,"y":21},{"x":36,"y":21},{"x":40,"y":21},{"x":44,"y":22},{"x":48,"y":22},{"x":52,"y":22},{"x":56,"y":22},{"x":59,"y":23}]},"mark":{"type":"circle","size":260,"color":"#000","opacity":1}},
{"data":{"values":[{"x":4,"y":21},{"x":6,"y":23},{"x":7,"y":17},{"x":8,"y":26},{"x":9,"y":19},{"x":9,"y":14},{"x":10,"y":23},{"x":11,"y":28},{"x":12,"y":13},{"x":13,"y":30},{"x":15,"y":11},{"x":16,"y":32},{"x":18,"y":13},{"x":20,"y":33},{"x":21,"y":10},{"x":23,"y":31},{"x":25,"y":10},{"x":27,"y":34},{"x":29,"y":12},{"x":31,"y":33},{"x":33,"y":10},{"x":35,"y":30},{"x":37,"y":12},{"x":39,"y":29},{"x":41,"y":13},{"x":43,"y":31},{"x":45,"y":12},{"x":45,"y":34},{"x":47,"y":29},{"x":49,"y":13},{"x":49,"y":32},{"x":51,"y":33},{"x":53,"y":12},{"x":55,"y":32},{"x":57,"y":13},{"x":59,"y":33},{"x":61,"y":14},{"x":61,"y":30},{"x":62,"y":25},{"x":63,"y":19},{"x":64,"y":28},{"x":65,"y":22},{"x":66,"y":26},{"x":67,"y":17},{"x":67,"y":30},{"x":68,"y":21},{"x":69,"y":25},{"x":70,"y":18},{"x":71,"y":22},{"x":67,"y":33},{"x":10.5,"y":26},{"x":13.5,"y":15},{"x":14.5,"y":28},{"x":17.5,"y":29},{"x":19.5,"y":14},{"x":22.5,"y":29},{"x":24.5,"y":13},{"x":26.5,"y":30},{"x":28.5,"y":14},{"x":30.5,"y":30},{"x":32.5,"y":14},{"x":34.5,"y":29},{"x":36.5,"y":14},{"x":38.5,"y":31},{"x":40.5,"y":15},{"x":42.5,"y":29},{"x":44.5,"y":14},{"x":46.5,"y":31},{"x":48.5,"y":15},{"x":50.5,"y":30},{"x":52.5,"y":15},{"x":54.5,"y":30},{"x":56.5,"y":15},{"x":58.5,"y":30},{"x":60.5,"y":16},{"x":62.5,"y":28}]},"mark":{"type":"circle","size":3,"color":"#000","opacity":0.9}},
{"data":{"values":[{"x":0,"x2":100,"y":0,"y2":100}]},"mark":{"type":"rect","fill":"transparent","stroke":"#666","strokeWidth":1.2},"encoding":{"x2":{"field":"x2"},"y2":{"field":"y2"}}},
{"data":{"values":[{"x":45.6,"x2":97.2,"y":2.7,"y2":56.7}]},"mark":{"type":"rect","fill":"transparent","stroke":"#333","strokeWidth":1.2},"encoding":{"x2":{"field":"x2"},"y2":{"field":"y2"}}},
{"data":{"values":[{"x":94.6,"y":49.3,"t":"22"}]},"mark":{"type":"text","fontSize":16,"color":"#222","align":"right","baseline":"middle"},"encoding":{"text":{"field":"t"}}}
]},
{"encoding":{"x":{"field":"pos","type":"quantitative","title":null,"scale":{"domain":[0.498,3.44],"range":[555,760]},"axis":{"orient":"bottom","offset":-988,"values":[1,2,3],"labelExpr":"datum.value==1?'Mature':datum.value==2?'Immature':'Pre'","labelOffset":{"condition":{"test":"datum.value==1","value":-5},"value":0},"labelFontSize":16,"labelColor":"#333","labelPadding":3,"domainColor":"#333","domainWidth":1.3,"tickColor":"#333","tickWidth":1.3,"tickSize":5,"title":null}},"y":{"field":"value","type":"quantitative","title":null,"scale":{"domain":[0,100],"range":[258,53.7]},"axis":{"orient":"left","offset":-555,"values":[0,25,50,75,100],"labelFontSize":14.5,"labelColor":"#333","labelPadding":3,"domainColor":"#333","domainWidth":1.3,"tickColor":"#333","tickWidth":1.3,"tickSize":5,"title":["% B cells in indicated","maturation stage"],"titleFontSize":16.5,"titleFontWeight":"normal","titleColor":"#333","titleX":-60,"titleY":158,"titleBaseline":"bottom","titleLineHeight":22}}},"layer":[
{"data":{"values":[{"pos":0.88,"value":12.6},{"pos":1,"value":12.3},{"pos":1.12,"value":12.6},{"pos":0.77,"value":9.3},{"pos":0.885,"value":8.6},{"pos":1.12,"value":9.3},{"pos":1,"value":5.5},{"pos":0.77,"value":3.1},{"pos":0.885,"value":2.3},{"pos":0.94,"value":4.2},{"pos":1,"value":1},{"pos":1.05,"value":4.2},{"pos":1.12,"value":2.3},{"pos":1.19,"value":4.7},{"pos":1.23,"value":2.8}]},"mark":{"type":"point","shape":"triangle-down","filled":true,"size":50,"color":"#3b5aa6","opacity":1}},
{"data":{"values":[{"pos":1.967,"value":30},{"pos":2.086,"value":30},{"pos":1.85,"value":21},{"pos":1.967,"value":21},{"pos":2.086,"value":22.7},{"pos":2.086,"value":18.6},{"pos":1.967,"value":17},{"pos":1.737,"value":15.7},{"pos":1.85,"value":14.4},{"pos":2.086,"value":14.4},{"pos":1.967,"value":13},{"pos":2.2,"value":11.6},{"pos":1.85,"value":10.8},{"pos":2.086,"value":10.1},{"pos":1.967,"value":8}]},"mark":{"type":"square","size":34,"color":"#f58634","opacity":1}},
{"data":{"values":[{"pos":3.067,"value":89.2},{"pos":2.713,"value":84.8},{"pos":2.947,"value":85.5},{"pos":3.067,"value":84.5},{"pos":2.828,"value":82.5},{"pos":2.947,"value":81.2},{"pos":2.947,"value":75.7},{"pos":2.828,"value":73.9},{"pos":3.067,"value":73.9},{"pos":2.713,"value":69.7},{"pos":2.947,"value":70.8},{"pos":2.828,"value":67.4},{"pos":2.947,"value":66.4},{"pos":3.067,"value":66.4},{"pos":3.187,"value":67.5}]},"mark":{"type":"circle","size":30,"color":"#39b54a","opacity":1}},
{"data":{"values":[{"pos":0.675,"pos2":1.335,"value":6},{"pos":1.64,"pos2":2.3,"value":17.1},{"pos":2.62,"pos2":3.28,"value":75.9}]},"mark":{"type":"rule","color":"#222","strokeWidth":1.3},"encoding":{"x2":{"field":"pos2"}}},
{"data":{"values":[{"pos":0.785,"pos2":2.986,"value":108.2},{"pos":1.93,"pos2":2.986,"value":100.5},{"pos":0.79,"pos2":1.93,"value":93.1}]},"mark":{"type":"rule","color":"#444","strokeWidth":1},"encoding":{"x2":{"field":"pos2"}}},
{"data":{"values":[{"pos":1.885,"value":108.2,"t":"***"},{"pos":2.46,"value":100.5,"t":"***"},{"pos":1.37,"value":93.1,"t":"***"}]},"mark":{"type":"text","fontSize":15,"color":"#444","align":"center","baseline":"alphabetic","dy":4},"encoding":{"text":{"field":"t"}}}
]},
{"encoding":{"x":{"field":"pos","type":"quantitative","title":null,"scale":{"domain":[0.506,3.508],"range":[558.7,767.3]},"axis":{"orient":"bottom","offset":-781.7,"values":[1,2,3],"labelExpr":"datum.value==1?'Mature':datum.value==2?'Immature':'Pre'","labelOffset":{"condition":{"test":"datum.value==1","value":-8},"value":-2},"labelFontSize":16,"labelColor":"#333","labelPadding":3,"domainColor":"#333","domainWidth":1.3,"tickColor":"#333","tickWidth":1.3,"tickSize":5,"title":null}},"y":{"field":"value","type":"quantitative","title":null,"scale":{"domain":[0,50],"range":[464.3,325]},"axis":{"orient":"left","offset":-558.7,"values":[0,25,50],"labelFontSize":15.5,"labelColor":"#222","labelPadding":1,"domainColor":"#222","domainWidth":1.3,"tickColor":"#333","tickWidth":1.3,"tickSize":4,"title":"% TdT expression","titleFontSize":16,"titleFontWeight":"normal","titleColor":"#333","titleX":-28,"titleY":414,"titleBaseline":"bottom"}}},"layer":[
{"data":{"values":[{"pos":1,"value":12.6},{"pos":1,"value":8},{"pos":0.76,"value":6},{"pos":1.125,"value":5},{"pos":0.88,"value":4.2},{"pos":1,"value":3.7},{"pos":0.794,"value":1.3},{"pos":0.82,"value":1.9},{"pos":0.88,"value":0.9},{"pos":0.938,"value":1.3},{"pos":1,"value":0.8},{"pos":1.06,"value":0.8},{"pos":1.125,"value":0.8},{"pos":1.18,"value":2.1},{"pos":1.24,"value":0.8}]},"mark":{"type":"point","shape":"triangle-down","filled":true,"size":50,"color":"#3b5aa6","opacity":1}},
{"data":{"values":[{"pos":2,"value":15.3},{"pos":1.88,"value":13.5},{"pos":2.12,"value":12.7},{"pos":2,"value":10.9},{"pos":2.06,"value":7.7},{"pos":1.76,"value":6.2},{"pos":1.88,"value":6.2},{"pos":2.12,"value":6.2},{"pos":2.24,"value":6.7},{"pos":2,"value":5.3},{"pos":1.88,"value":3.3},{"pos":2.12,"value":3.3},{"pos":2.24,"value":4.3},{"pos":2,"value":1.9},{"pos":1.88,"value":4.6}]},"mark":{"type":"square","size":34,"color":"#f58634","opacity":1}},
{"data":{"values":[{"pos":3,"value":39.6},{"pos":3,"value":34.2},{"pos":3,"value":30.3},{"pos":2.88,"value":25.5},{"pos":3,"value":22.8},{"pos":3.12,"value":23.3},{"pos":3,"value":18.8},{"pos":3.12,"value":17},{"pos":3,"value":14.1},{"pos":2.76,"value":11.8},{"pos":2.88,"value":10.9},{"pos":3.12,"value":11.8},{"pos":3,"value":9.4},{"pos":3.12,"value":7.5},{"pos":3,"value":4.8}]},"mark":{"type":"circle","size":30,"color":"#39b54a","opacity":1}},
{"data":{"values":[{"pos":0.664,"pos2":1.34,"value":3.1},{"pos":1.66,"pos2":2.34,"value":7.2},{"pos":2.664,"pos2":3.34,"value":18.8}]},"mark":{"type":"rule","color":"#222","strokeWidth":1.3},"encoding":{"x2":{"field":"pos2"}}},
{"data":{"values":[{"pos":0.803,"pos2":3.01,"value":53.9},{"pos":1.93,"pos2":2.98,"value":47.4}]},"mark":{"type":"rule","color":"#444","strokeWidth":1},"encoding":{"x2":{"field":"pos2"}}},
{"data":{"values":[{"pos":1.93,"value":53.9,"t":"***"},{"pos":2.5,"value":47.4,"t":"***"}]},"mark":{"type":"text","fontSize":15,"color":"#444","align":"center","baseline":"alphabetic","dy":2},"encoding":{"text":{"field":"t"}}}
]},
{"encoding":{"x":{"field":"pos","type":"quantitative","title":null,"scale":{"domain":[0.527,2.5],"range":[556.3,655]},"axis":{"orient":"bottom","offset":-527,"values":[1,2],"labelExpr":"datum.value==1?'Mature B':['Pre-B /','Immature']","labelOffset":{"condition":{"test":"datum.value==1","value":0},"value":3},"labelFontSize":12,"labelColor":"#333","labelPadding":0,"labelLineHeight":16,"domainColor":"#444","domainWidth":1,"tickColor":"#444","tickWidth":1,"tickSize":4,"title":null}},"y":{"field":"value","type":"quantitative","title":null,"scale":{"domain":[0,100],"range":[719,570]},"axis":{"orient":"left","offset":-556.3,"values":[0,25,50,75,100],"labelFontSize":14,"labelColor":"#333","labelPadding":2,"domainColor":"#444","domainWidth":1,"tickColor":"#444","tickWidth":1,"tickSize":4,"title":["% B cells in indicated","maturation stage"],"titleFontSize":16.5,"titleFontWeight":"normal","titleColor":"#333","titleX":-52,"titleY":655,"titleBaseline":"bottom","titleLineHeight":22}}},"layer":[
{"data":{"values":[{"pos":1.113,"value":19},{"pos":1,"value":15.7},{"pos":0.787,"value":11.4},{"pos":0.893,"value":11.4},{"pos":1,"value":11.4},{"pos":1.113,"value":11.4},{"pos":1.22,"value":12},{"pos":0.787,"value":6.7},{"pos":0.893,"value":5.8},{"pos":1.22,"value":6.7},{"pos":1,"value":3.6},{"pos":1.113,"value":3.6},{"pos":1,"value":6.4}]},"mark":{"type":"point","shape":"triangle-up","filled":true,"size":22,"color":"#000","opacity":1}},
{"data":{"values":[{"pos":1.78,"value":96.4},{"pos":2.047,"value":96.4},{"pos":1.887,"value":93.5},{"pos":1.993,"value":93},{"pos":2.1,"value":93.5},{"pos":2.213,"value":94},{"pos":1.78,"value":88.8},{"pos":1.887,"value":88.6},{"pos":1.993,"value":87.9},{"pos":2.1,"value":88.4},{"pos":2.213,"value":89.3},{"pos":2.1,"value":84.6},{"pos":1.993,"value":81.2}]},"mark":{"type":"square","size":14,"color":"#000","opacity":1}},
{"data":{"values":[{"pos":0.667,"pos2":1.347,"value":9.8},{"pos":1.667,"pos2":2.333,"value":90.4},{"pos":0.967,"pos2":2.033,"value":110}]},"mark":{"type":"rule","color":"#444","strokeWidth":1},"encoding":{"x2":{"field":"pos2"}}},
{"data":{"values":[{"pos":1.48,"value":110,"t":"***"}]},"mark":{"type":"text","fontSize":13,"color":"#444","align":"center","baseline":"alphabetic","dy":-1},"encoding":{"text":{"field":"t"}}}
]},
{"encoding":{"x":{"field":"pos","type":"quantitative","title":null,"scale":{"domain":[0.507,2.585],"range":[556.7,655]},"axis":{"orient":"bottom","offset":-293.7,"values":[1,2],"labelExpr":"datum.value==1?'Mature B':['Pre-B /','Immature']","labelOffset":{"condition":{"test":"datum.value==1","value":0},"value":6},"labelFontSize":12,"labelColor":"#333","labelPadding":0,"labelLineHeight":16,"domainColor":"#444","domainWidth":1,"tickColor":"#444","tickWidth":1,"tickSize":4,"title":null}},"y":{"field":"value","type":"quantitative","title":null,"scale":{"domain":[0,40],"range":[952.3,809.3]},"axis":{"orient":"left","offset":-556.7,"values":[0,10,20,30,40],"labelFontSize":14,"labelColor":"#333","labelPadding":2,"domainColor":"#444","domainWidth":1,"tickColor":"#444","tickWidth":1,"tickSize":4,"title":"% Lambda 5 ⁺","titleFontSize":16,"titleFontWeight":"normal","titleColor":"#333","titleX":-40,"titleY":874,"titleBaseline":"bottom"}}},"layer":[
{"data":{"values":[{"pos":1,"value":8.9},{"pos":1,"value":7.2},{"pos":1.12,"value":1.7},{"pos":1,"value":0.9}]},"mark":{"type":"point","shape":"triangle-up","filled":true,"size":22,"color":"#000","opacity":1}},
{"data":{"values":[{"pos":2.007,"value":33.1},{"pos":2.007,"value":24},{"pos":2.007,"value":20.2},{"pos":2.007,"value":18.4}]},"mark":{"type":"square","size":14,"color":"#000","opacity":1}},
{"data":{"values":[{"pos":0.662,"pos2":1.338,"value":4.6},{"pos":1.662,"pos2":2.352,"value":22},{"pos":0.859,"pos2":1.986,"value":39.2}]},"mark":{"type":"rule","color":"#444","strokeWidth":1},"encoding":{"x2":{"field":"pos2"}}},
{"data":{"values":[{"pos":1.42,"value":39.2,"t":"**"}]},"mark":{"type":"text","fontSize":13,"color":"#444","align":"center","baseline":"alphabetic","dy":0},"encoding":{"text":{"field":"t"}}}
]},
{"encoding":{"x":{"field":"pos","type":"quantitative","title":null,"scale":{"domain":[0.5,2.527],"range":[556.3,655]},"axis":{"orient":"bottom","offset":-34.7,"values":[1,2],"labelExpr":"datum.value==1?'Mature B':['Pre-B /','Immature']","labelOffset":{"condition":{"test":"datum.value==1","value":0},"value":4},"labelFontSize":12,"labelColor":"#333","labelPadding":0,"labelLineHeight":16,"domainColor":"#444","domainWidth":1,"tickColor":"#444","tickWidth":1,"tickSize":4,"title":null}},"y":{"field":"value","type":"quantitative","title":null,"scale":{"domain":[0,100],"range":[1211.3,1064.3]},"axis":{"orient":"left","offset":-556.3,"values":[0,25,50,75,100],"labelFontSize":14,"labelColor":"#333","labelPadding":2,"domainColor":"#444","domainWidth":1,"tickColor":"#444","tickWidth":1,"tickSize":4,"title":"% Intracellular IgM ⁺","titleFontSize":16,"titleFontWeight":"normal","titleColor":"#333","titleX":-38,"titleY":1135.7,"titleBaseline":"bottom"}}},"layer":[
{"data":{"values":[{"pos":1,"value":81.6},{"pos":0.877,"value":79.1},{"pos":1,"value":76.9},{"pos":0.877,"value":73},{"pos":1.116,"value":72.3},{"pos":1.24,"value":73.7},{"pos":0.877,"value":69.8},{"pos":1,"value":70.3},{"pos":1,"value":66.7},{"pos":1,"value":58},{"pos":0.877,"value":46.5},{"pos":1,"value":44.2},{"pos":1,"value":37.4}]},"mark":{"type":"point","shape":"triangle-up","filled":true,"size":22,"color":"#000","opacity":1}},
{"data":{"values":[{"pos":2,"value":49.7},{"pos":1.877,"value":29.5},{"pos":2.116,"value":29.7},{"pos":2,"value":28},{"pos":1.877,"value":22.7},{"pos":2.24,"value":22.9},{"pos":2.116,"value":22},{"pos":2,"value":19.7},{"pos":1.753,"value":16.8},{"pos":1.877,"value":16.1},{"pos":2,"value":15.6},{"pos":2.116,"value":16.3},{"pos":2,"value":8.2}]},"mark":{"type":"square","size":14,"color":"#000","opacity":1}},
{"data":{"values":[{"pos":0.658,"pos2":1.336,"value":71},{"pos":1.671,"pos2":2.336,"value":22},{"pos":0.952,"pos2":2.068,"value":94.3}]},"mark":{"type":"rule","color":"#444","strokeWidth":1},"encoding":{"x2":{"field":"pos2"}}},
{"data":{"values":[{"pos":1.534,"value":94.3,"t":"***"}]},"mark":{"type":"text","fontSize":13,"color":"#444","align":"center","baseline":"alphabetic","dy":2},"encoding":{"text":{"field":"t"}}}
]}
]}
